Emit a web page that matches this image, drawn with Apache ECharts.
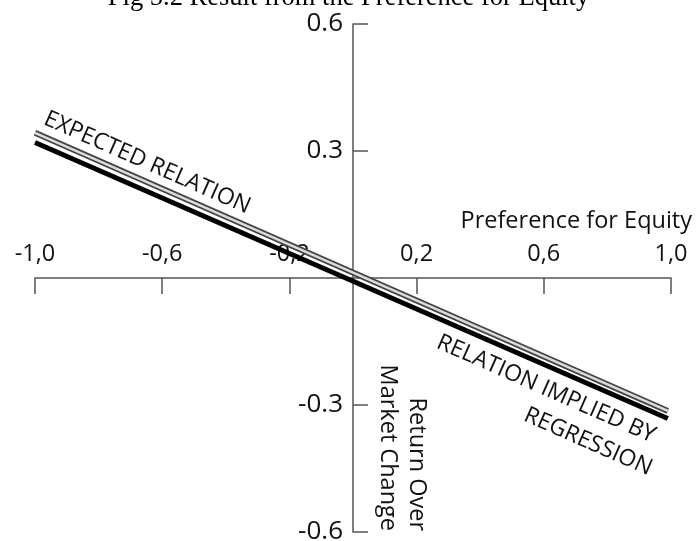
<!DOCTYPE html>
<html>
<head>
<meta charset="utf-8">
<script src="https://cdn.jsdelivr.net/npm/echarts@6/dist/echarts.min.js"></script>
<style>html,body{margin:0;padding:0;background:#fff}#c{width:697px;height:541px}</style>
</head>
<body>
<div id="c"></div>
<script>
// ---- data ----
const titleText = 'Fig 5.2 Result from the Preference for Equity';
const xTickValues = [-1.0, -0.6, -0.2, 0.2, 0.6, 1.0];
const yTickValues = [-0.6, -0.3, 0.3, 0.6];
const expectedX = [-1.0, 0.99];
const expectedY = [0.343, -0.314];
const regressionX = [-1.0, 0.99];
const regressionY = [0.32, -0.332];
const xAxisName = 'Preference for Equity';
const yAxisName = 'Return Over\nMarket Change';
const expectedLabel = 'EXPECTED RELATION';
const regressionLabel1 = 'RELATION IMPLIED BY';
const regressionLabel2 = 'REGRESSION';

const pairs = (xs, ys) => xs.map((x, i) => [x, ys[i]]);
const FONT = 'Open Sans';
const GRID = {left: 35, right: 26, top: 24, bottom: 9};

const chart = echarts.init(document.getElementById('c'), null, {renderer: 'canvas'});
const baseOption = (xOff, yOff) => ({
  animation: false,
  backgroundColor: '#fff',
  title: {
    text: titleText, left: 'center', top: -15, padding: 0,
    textStyle: {fontFamily: 'Liberation Serif', fontSize: 26.5, fontWeight: 'normal', color: '#000'}
  },
  grid: Object.assign({containLabel: false, outerBoundsMode: 'none'}, GRID),
  xAxis: {
    type: 'value', min: -1, max: 1, position: 'bottom', offset: xOff,
    axisLine: {onZero: false, lineStyle: {color: '#555', width: 1.5}},
    axisTick: {show: true, inside: false, length: 16, customValues: xTickValues, lineStyle: {color: '#555', width: 1.5}},
    axisLabel: {show: true, inside: true, margin: 12, customValues: xTickValues,
      fontFamily: FONT, fontSize: 23.5, color: '#111',
      formatter: v => v.toFixed(1).replace('.', ',')},
    splitLine: {show: false}
  },
  yAxis: {
    type: 'value', min: -0.6, max: 0.6, interval: 0.3, position: 'left', offset: yOff,
    axisLine: {onZero: false, lineStyle: {color: '#555', width: 1.5}},
    axisTick: {show: true, inside: true, length: 15, customValues: yTickValues, lineStyle: {color: '#555', width: 1.5}},
    axisLabel: {show: true, inside: false, margin: 10, customValues: yTickValues,
      fontFamily: FONT, fontSize: 26, color: '#111',
      formatter: v => v.toFixed(1)},
    splitLine: {show: false}
  },
  series: [
    {type: 'line', name: 'regression', data: pairs(regressionX, regressionY), symbol: 'none',
      lineStyle: {color: '#000', width: 5}, z: 3},
    {type: 'line', name: 'expected-outer', data: pairs(expectedX, expectedY), symbol: 'none',
      lineStyle: {color: '#444', width: 6}, z: 4},
    {type: 'line', name: 'expected-inner', data: pairs(expectedX, expectedY), symbol: 'none',
      lineStyle: {color: '#dcdcdc', width: 2.5}, z: 5}
  ]
});
chart.setOption(baseOption(0, 0));
const px = p => chart.convertToPixel({gridIndex: 0}, p);
const origin = px([0, 0]);
const H = 541;
// move axes so they cross at the data origin
const xOff = -((H - GRID.bottom) - origin[1]);
const yOff = -(origin[0] - GRID.left);
chart.setOption(baseOption(xOff, yOff));

const ang = -23.8 * Math.PI / 180;
const yBottom = px([0, -0.6]);
const xEnd = px([1, 0]);
const e = px([-0.647, 0.272]);
const r1 = px([0.607, -0.262]);
const r2 = px([0.739, -0.387]);
const annStyle = {fontFamily: FONT, fontSize: 23, fill: '#111', align: 'center', verticalAlign: 'middle'};
chart.setOption({
  graphic: [
    {type: 'text', x: e[0], y: e[1], rotation: ang, z: 10, style: Object.assign({text: expectedLabel}, annStyle)},
    {type: 'text', x: r1[0], y: r1[1], rotation: ang, z: 10, style: Object.assign({text: regressionLabel1}, annStyle)},
    {type: 'text', x: r2[0], y: r2[1], rotation: ang, z: 10, style: Object.assign({text: regressionLabel2}, annStyle)},
    {type: 'text', x: yBottom[0] + 49, y: yBottom[1] - 1, rotation: -Math.PI / 2, z: 10,
      style: {text: yAxisName, fontFamily: FONT, fontSize: 23.5, fill: '#111', align: 'right', verticalAlign: 'middle', lineHeight: 29}},
    {type: 'text', x: xEnd[0] + 21, y: xEnd[1] - 57, z: 10,
      style: {text: xAxisName, fontFamily: FONT, fontSize: 23.5, fill: '#111', align: 'right', verticalAlign: 'middle'}}
  ]
});
</script>
</body>
</html>
